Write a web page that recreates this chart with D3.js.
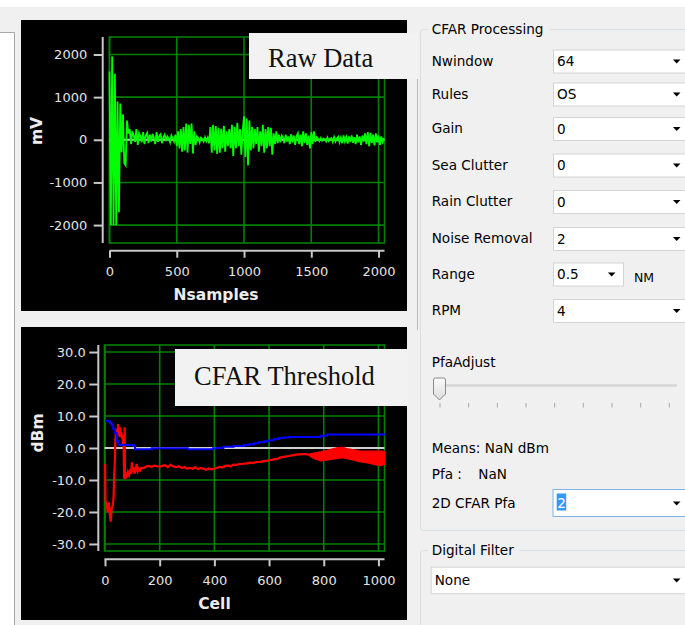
<!DOCTYPE html>
<html><head><meta charset="utf-8">
<script src="https://cdn.jsdelivr.net/npm/d3@7"></script>
<style>html,body{margin:0;padding:0;background:#f0f0f0;overflow:hidden}svg{display:block}</style>
</head><body><svg id="c" width="685" height="625"></svg>
<script>
// ---------- data ----------
const rawStep = 10; // sample spacing of rawValues
const rawValues = [
 1600,-2000,1950,-2000,1550,-2000,900,-1700,850,-300,
 600,-550,-600,450,150,250,-100,200,100,-50,
 250,-120,150,80,-60,180,-100,100,160,-80,
 120,-40,140,40,-100,180,-50,90,130,-80,
 60,120,-30,80,30,-60,100,40,-40,120,
 -150,200,-200,250,-280,300,-250,380,-300,350,
 -100,380,-320,200,-120,80,40,-60,50,20,
 -40,60,-30,50,-80,300,-300,350,-250,320,
 -330,280,-300,260,-200,330,-280,200,-150,250,
 -200,350,-380,300,-200,400,-150,250,-350,200,
 550,-400,500,-600,450,-250,300,-200,250,-100,
 300,-280,200,-150,350,-300,250,-200,300,-150,
 280,-350,150,-100,200,-80,120,-60,100,50,
 -80,120,-40,80,-100,130,-60,100,-120,80,
 150,-100,120,-150,200,-80,150,-120,100,-200,
 180,-100,200,-50,60,30,-30,40,-20,30,
 10,-40,50,-30,20,40,-50,60,-40,30,
 70,-60,50,-80,100,-40,60,-90,80,-50,
 100,-70,60,-100,120,-60,80,-120,100,-40,
 150,-100,180,-150,160,-80,120,-130,150,-60,
 100,-120,80,-50,40
];
const rawXTicks = [0, 500, 1000, 1500, 2000];
const rawYTicks = [-2000, -1000, 0, 1000, 2000];

const cfarXTicks = [0, 200, 400, 600, 800, 1000];
const cfarYTicks = [-30, -20, -10, 0, 10, 20, 30];

const thresholdCells  = [0,12,18,24,30,37,43,49,61,103,110,171,303,395,410,433,470,508,527,545,563,582,600,618,636,655,673,782,790,813,1024];
const thresholdValues = [8.5,8.3,7.8,7.3,6.0,4.7,2.1,1.0,0.9,0.8,-0.4,-0.1,-0.4,-0.1,0.0,0.4,0.6,0.9,1.2,1.5,1.8,2.1,2.4,2.8,3.1,3.3,3.4,3.5,3.8,4.2,4.2];

const signalCells = [0,2,6,10,14,18,21,24,28,31,33,36,38,40,42,44,46,48,50,52,54,56,58,60,62,64,66,68,70,72,73,76,80,84,88,92,96,98,100,104,108,112,116,120,124,128,132,140,150,160,170,180,190,200,210,220,230,240,250,260,270,280,290,300,310,320,330,340,350,360,370,380,390,400,410,420,430,440,450,460,470,480,490,500,510,520,530,540,550,560,570,580,590,600,610,620,630,640,650,660,670,680,690,700,710,720,730,740,750,760];
const signalValues = [-5,-16.5,-18,-20,-17,-21,-23,-19,-18,-16,-10.5,-4,3,4.5,3,6,4,7.5,5,6,3.5,6.5,4,5,3,4,1.5,1,-9.5,6.5,-9.8,-8,-8.8,-7.5,-8.5,-7.2,-8,-4.5,-7.5,-6,-8,-7,-5,-7.2,-6.5,-7,-6.3,-6.3,-5.8,-5.6,-5.9,-5.5,-5.7,-5.8,-5.6,-5.4,-6,-5.2,-5.8,-6,-5.7,-6.2,-6,-6.4,-6.2,-6.5,-6,-6.6,-6.3,-6.5,-6.8,-6.4,-6.7,-6.5,-6.2,-5.9,-6.1,-5.6,-5.5,-5.7,-5.2,-5.3,-5.0,-5.0,-4.9,-4.8,-4.6,-4.7,-4.5,-4.3,-4.4,-4.0,-4.1,-3.8,-3.7,-3.5,-3.4,-3.0,-2.8,-2.7,-2.5,-2.4,-2.2,-2.1,-2.0,-1.9,-1.9,-2.0,-2.2,-2.6];
// oscillating tail of the signal: envelope
const bandCells = [750,770,790,810,830,850,870,890,910,930,950,970,990,1010,1024];
const bandHigh  = [-1.8,-1.5,-1.2,-0.8,-0.3,0.1,0.2,-0.3,-0.6,-0.9,-1.0,-1.0,-1.0,-1.0,-1.2];
const bandLow   = [-2.6,-3.5,-4.0,-3.8,-3.5,-3.3,-3.0,-3.4,-3.8,-4.3,-4.5,-4.8,-5.3,-5.5,-5.0];

const formLabels = ["Nwindow","Rules","Gain","Sea Clutter","Rain Clutter","Noise Removal","Range","RPM"];
const formValues = ["64","OS","0","0","0","2","0.5","4"];
const sliderTicks = [0,1,2,3,4,5,6,7,8];
const sliderValue = 0;

// ---------- drawing ----------
const svg = d3.select("#c");
const FONT = "DejaVu Sans";

svg.append("rect").attr("x",0).attr("y",0).attr("width",685).attr("height",625).attr("fill","#f0f0f0");
svg.append("rect").attr("x",0).attr("y",0).attr("width",685).attr("height",7).attr("fill","#ffffff");
svg.append("rect").attr("x",0).attr("y",32).attr("width",14).attr("height",593).attr("fill","#ffffff");
svg.append("path").attr("d","M0,32.5H14.5V625").attr("fill","none").attr("stroke","#a8a8a8");
svg.append("line").attr("x1",417.5).attr("x2",417.5).attr("y1",72).attr("y2",330).attr("stroke","#b8b8b8");

function chart(cfg){
  const g = svg.append("g");
  g.append("rect").attr("x",cfg.panel[0]).attr("y",cfg.panel[1]).attr("width",cfg.panel[2]).attr("height",cfg.panel[3]).attr("fill","#000");
  const x = cfg.x, y = cfg.y;
  const [px0,px1] = cfg.plotX, [py0,py1] = cfg.plotY;
  const grid = g.append("g").attr("stroke","#008000").attr("stroke-width",1.6);
  cfg.xTicks.forEach(t=>grid.append("line").attr("x1",x(t)).attr("x2",x(t)).attr("y1",py0).attr("y2",py1));
  cfg.yTicks.filter(t=>t!==0).forEach(t=>grid.append("line").attr("x1",px0).attr("x2",px1).attr("y1",y(t)).attr("y2",y(t)));
  grid.append("rect").attr("x",px0).attr("y",py0).attr("width",px1-px0).attr("height",py1-py0).attr("fill","none");
  g.append("line").attr("x1",px0).attr("x2",px1).attr("y1",y(0)).attr("y2",y(0)).attr("stroke","#d0d0d0").attr("stroke-width",2);
  cfg.draw(g);
  // axes
  const ya = g.append("g").attr("transform",`translate(${cfg.yAxisX},0)`)
    .call(d3.axisLeft(y).tickValues(cfg.yTicks).tickFormat(cfg.yFmt).tickSize(9).tickSizeOuter(0).tickPadding(cfg.yPad));
  ya.select(".domain").attr("d",`M0,${py0}V${py1}`);
  const xa = g.append("g").attr("transform",`translate(0,${cfg.xAxisY})`)
    .call(d3.axisBottom(x).tickValues(cfg.xTicks).tickSize(7).tickSizeOuter(0).tickPadding(cfg.xPad).tickFormat(d=>String(d)));
  xa.select(".domain").attr("d",`M${px0},0H${px1}`);
  [ya,xa].forEach(a=>{
    a.selectAll(".domain,.tick line").attr("stroke","#c8c8c8").attr("stroke-width",2);
    a.selectAll("text").attr("fill","#e4e4e4").attr("font-family",FONT).attr("font-size",13);
  });
  g.append("text").attr("x",cfg.xTitle[0]).attr("y",cfg.xTitle[1]).attr("text-anchor","middle")
    .attr("font-family",FONT).attr("font-weight","bold").attr("font-size",15.5).attr("fill","#ececec").text(cfg.xLabel);
  g.append("text").attr("transform",`translate(${cfg.yTitle[0]},${cfg.yTitle[1]}) rotate(-90)`).attr("text-anchor","middle")
    .attr("font-family",FONT).attr("font-weight","bold").attr("font-size",15.5).attr("fill","#ececec").text(cfg.yLabel);
  // overlay title box
  g.append("rect").attr("x",cfg.box[0]).attr("y",cfg.box[1]).attr("width",cfg.box[2]).attr("height",cfg.box[3]).attr("fill","#f2f2f2");
  g.append("text").attr("x",cfg.boxText[0]).attr("y",cfg.boxText[1]).attr("font-family","Liberation Serif")
    .attr("font-size",26.5).attr("fill","#111").text(cfg.title);
}

// Raw data chart
const xRaw = d3.scaleLinear().domain([0,2048]).range([109.5,385]);
const yRaw = d3.scaleLinear().domain([-2420,2410]).range([243,37]);
chart({
  panel:[21,20,386,291], x:xRaw, y:yRaw, plotX:[109.5,384.5], plotY:[37,243],
  xTicks:rawXTicks, yTicks:rawYTicks, yFmt:d=>String(d), yAxisX:102.7, yPad:6.5, xAxisY:250.7, xPad:9.5,
  xTitle:[216,300], yTitle:[41.7,131], xLabel:"Nsamples", yLabel:"mV",
  box:[249,33,169,46], boxText:[268,67], title:"Raw Data",
  draw:g=>{
    g.append("path").datum(rawValues)
      .attr("d",d3.line().x((d,i)=>xRaw(i*rawStep)).y(d=>yRaw(d)))
      .attr("fill","none").attr("stroke","#00ff00").attr("stroke-width",1.8);
  }
});

// CFAR threshold chart
const xCell = d3.scaleLinear().domain([0,1024]).range([105,385]);
const yDb = d3.scaleLinear().domain([-32.2,32.2]).range([551,345]);
chart({
  panel:[21,327,386,293], x:xCell, y:yDb, plotX:[104.5,384.5], plotY:[345,551],
  xTicks:cfarXTicks, yTicks:cfarYTicks, yFmt:d=>d.toFixed(1), yAxisX:98.3, yPad:3.5, xAxisY:559.3, xPad:9.2,
  xTitle:[214.5,609.3], yTitle:[43,433], xLabel:"Cell", yLabel:"dBm",
  box:[175,349,233,57], boxText:[194,385], title:"CFAR Threshold",
  draw:g=>{
    g.append("path").datum(bandCells.map((c,i)=>[c,bandHigh[i],bandLow[i]]))
      .attr("d",d3.area().x(d=>xCell(d[0])).y0(d=>yDb(d[2])).y1(d=>yDb(d[1])))
      .attr("fill","#ff0000").attr("stroke","#ff0000").attr("stroke-width",1.2);
    g.append("path").datum(signalCells.map((c,i)=>[c,signalValues[i]]))
      .attr("d",d3.line().x(d=>xCell(d[0])).y(d=>yDb(d[1])))
      .attr("fill","none").attr("stroke","#ff0000").attr("stroke-width",2.2);
    g.append("path").datum(thresholdCells.map((c,i)=>[c,thresholdValues[i]]))
      .attr("d",d3.line().x(d=>xCell(d[0])).y(d=>yDb(d[1])).curve(d3.curveStepAfter))
      .attr("fill","none").attr("stroke","#0000ff").attr("stroke-width",2);
  }
});

// ---------- right control panel ----------
const ui = svg.append("g").attr("font-family",FONT).attr("font-size",13.6).attr("fill","#000");
function groupBox(y0, y1, title, tw){
  ui.append("rect").attr("x",420.5).attr("y",y0+0.5).attr("width",300).attr("height",y1-y0).attr("rx",3)
    .attr("fill","none").attr("stroke","#d5dfe5");
  ui.append("rect").attr("x",428).attr("y",y0-8).attr("width",tw).attr("height",16).attr("fill","#f0f0f0");
  ui.append("text").attr("x",431.7).attr("y",y0+5).text(title);
}
groupBox(29,530,"CFAR Processing",122);
groupBox(550,700,"Digital Filter",92);

function arrow(cx, cy){
  ui.append("path").attr("d",`M${cx-3.8},${cy-2}H${cx+3.8}L${cx},${cy+2}Z`).attr("fill","#000");
}
function combo(x, y, w, h, text, ax){
  ui.append("rect").attr("x",x+0.5).attr("y",y+0.5).attr("width",w).attr("height",h).attr("fill","#fff").attr("stroke","#d4d4d4");
  if(text!==null) ui.append("text").attr("x",x+4).attr("y",y+h/2+5).text(text);
  arrow(ax, y+h/2+0.5);
}
const rowCenters = [61, 94, 128.5, 165, 201.5, 238.5, 274, 310.5];
formLabels.forEach((lab,i)=>{
  const cy = rowCenters[i];
  ui.append("text").attr("x",431.7).attr("y",cy+4.5).text(lab);
  if(lab==="Range"){
    combo(553,cy-11.5,70,23,formValues[i],611.7);
    ui.append("text").attr("x",634).attr("y",cy+8).attr("font-size",12.5).text("NM");
  } else {
    combo(553,cy-11.5,140,23,formValues[i],676.7);
  }
});

ui.append("text").attr("x",431.7).attr("y",366.5).text("PfaAdjust");
const sx = d3.scaleLinear().domain([0,8]).range([440,669.3]);
ui.append("line").attr("x1",438).attr("x2",677).attr("y1",385.5).attr("y2",385.5).attr("stroke","#d6d6d6").attr("stroke-width",2.5);
sliderTicks.forEach(t=>ui.append("line").attr("x1",sx(t)).attr("x2",sx(t)).attr("y1",403).attr("y2",407.5).attr("stroke","#a8a8a8"));
const defs = svg.append("defs");
const grad = defs.append("linearGradient").attr("id","thumb").attr("x1",0).attr("x2",0).attr("y1",0).attr("y2",1);
grad.append("stop").attr("offset",0).attr("stop-color","#fbfbfb");
grad.append("stop").attr("offset",1).attr("stop-color","#dcdcdc");
const tx = sx(sliderValue)-0.5;
ui.append("path").attr("d",`M${tx-6},380 Q${tx-6},378 ${tx-4},378 H${tx+4} Q${tx+6},378 ${tx+6},380 V394 L${tx},400 L${tx-6},394 Z`)
  .attr("fill","url(#thumb)").attr("stroke","#8a8a8a");

ui.append("text").attr("x",431.7).attr("y",453.3).text("Means: NaN dBm");
ui.append("text").attr("x",431.7).attr("y",479).text("Pfa :");
ui.append("text").attr("x",478.3).attr("y",479).text("NaN");
ui.append("text").attr("x",431.7).attr("y",508.3).text("2D CFAR Pfa");
ui.append("rect").attr("x",553).attr("y",489.5).attr("width",140).attr("height",27).attr("fill","#fff").attr("stroke","#7eb4ea");
ui.append("rect").attr("x",556.7).attr("y",493.5).attr("width",9.5).attr("height",17).attr("fill","#3399ff");
ui.append("text").attr("x",557.3).attr("y",507.5).attr("fill","#fff").text("2");
arrow(676.7,503.5);

combo(430.7,566.7,270,26.5,"None",676.7);
</script></body></html>
